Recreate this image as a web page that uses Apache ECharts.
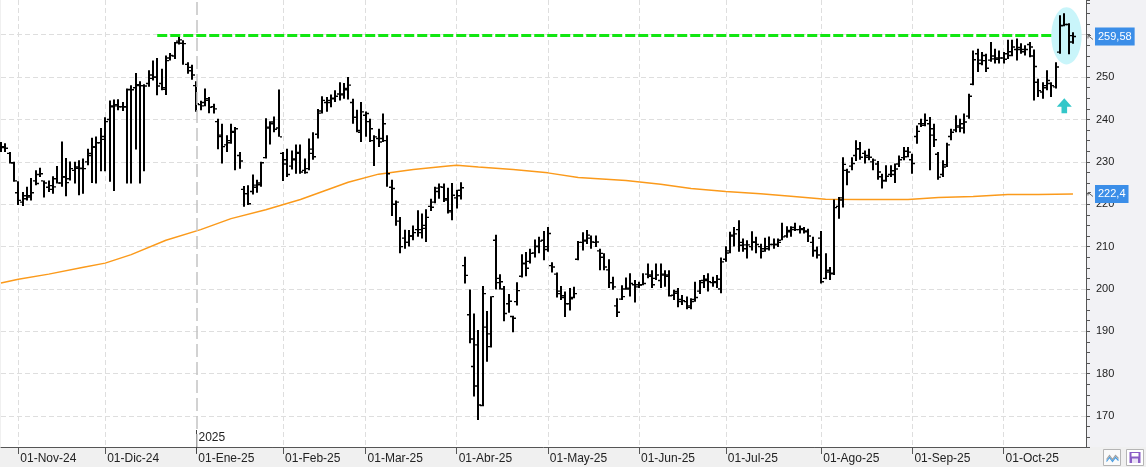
<!DOCTYPE html>
<html>
<head>
<meta charset="utf-8">
<script src="https://cdn.jsdelivr.net/npm/echarts@6/dist/echarts.min.js"></script>
<style>
  html, body { margin: 0; padding: 0; background: #f0f0f0; }
  #chart { width: 1146px; height: 467px; }
</style>
</head>
<body>
<div id="chart"></div>
<script>
// category slots (one per trading day) and the month marks on the time axis
const slotCount = 251;
const monthStarts = [4, 24, 45, 65, 84, 105, 126, 147, 167, 189, 210, 231];
const monthLabels = ['01-Nov-24', '01-Dic-24', '01-Ene-25', '01-Feb-25', '01-Mar-25', '01-Abr-25',
  '01-May-25', '01-Jun-25', '01-Jul-25', '01-Ago-25', '01-Sep-25', '01-Oct-25'];
const yearMark = { index: 45, label: '2025' };

// daily OHLC
const opens = [
  233.8, 233.6, 232.0, 229.8, 222.7, 220.5, 222.0, 222.0, 225.5, 227.0,
  225.5, 224.0, 223.5, 226.0, 225.0, 226.5, 226.0, 228.0, 228.5, 228.5,
  230.0, 232.0, 233.5, 234.5, 236.0, 240.0, 243.0, 243.5, 243.0, 243.0,
  247.0, 247.5, 248.0, 248.0, 248.5, 250.5, 250.0, 248.5, 247.5, 254.5,
  255.0, 258.5, 258.0, 253.0, 251.5, 248.0, 243.5, 244.0, 244.5, 243.0,
  239.5, 236.0, 234.0, 235.0, 237.0, 231.5, 223.5, 222.5, 223.0, 224.0,
  225.0, 231.0, 238.0, 239.0, 238.0, 232.0, 230.5, 229.0, 230.5, 232.0,
  228.0, 228.4, 232.0, 236.5, 242.0, 244.0, 244.5, 245.0, 246.0, 246.0,
  247.0, 244.0, 240.5, 237.0, 241.0, 239.5, 235.0, 235.5, 235.5, 235.0,
  224.0, 220.0, 216.0, 212.0, 211.0, 212.5, 214.0, 214.0, 215.0, 219.5,
  220.5, 223.0, 224.0, 221.0, 218.5, 221.5, 222.0, 205.5, 193.9, 181.7,
  186.8, 172.5, 191.0, 186.4, 211.5, 201.5, 200.0, 196.5, 193.5, 197.0,
  203.0, 206.0, 206.5, 208.5, 210.0, 211.5, 210.0, 205.5, 203.5, 199.5,
  198.0, 196.5, 198.0, 207.0, 211.0, 211.5, 212.0, 211.0, 209.0, 207.5,
  204.5, 201.5, 196.0, 197.6, 200.0, 200.0, 201.0, 201.0, 201.0, 203.5,
  203.0, 202.5, 202.0, 203.5, 203.0, 198.5, 199.0, 197.5, 197.0, 196.0,
  197.5, 199.5, 201.5, 202.0, 201.5, 201.5, 200.0, 207.0, 209.0, 212.5,
  214.0, 211.0, 209.5, 210.0, 211.0, 210.0, 209.5, 210.0, 210.5, 210.5,
  211.5, 212.5, 213.5, 214.5, 214.0, 214.0, 213.5, 211.0, 209.0, 212.0,
  202.5, 204.0, 203.6, 219.5, 221.0, 228.0, 229.0, 231.5, 233.1, 232.0,
  231.5, 230.0, 229.5, 226.5, 225.5, 227.0, 227.0, 229.5, 231.0, 232.5,
  230.5, 236.0, 239.0, 239.0, 239.0, 237.8, 231.8, 227.0, 229.3, 236.0,
  237.5, 238.5, 238.0, 240.8, 248.3, 255.5, 254.0, 253.9, 254.0, 255.0,
  254.5, 254.5, 255.5, 256.0, 256.5, 257.0, 256.0, 257.7, 255.0, 248.8,
  246.5, 248.0, 248.5, 247.7, 255.9, 262.2, 262.4, 259.8
];
const highs = [
  234.7, 234.4, 232.3, 230.0, 225.4, 222.9, 224.1, 226.2, 228.0, 228.6,
  225.6, 225.6, 226.6, 229.0, 234.8, 230.9, 230.1, 230.0, 230.4, 230.8,
  233.1, 235.7, 236.0, 238.0, 240.5, 244.5, 244.7, 244.8, 244.1, 247.3,
  248.1, 251.0, 249.0, 248.3, 251.6, 253.9, 254.5, 252.0, 255.1, 255.7,
  258.3, 260.0, 258.7, 253.5, 252.9, 249.0, 244.4, 247.3, 245.3, 243.7,
  240.2, 239.0, 236.3, 239.0, 238.2, 232.3, 224.3, 224.5, 227.0, 225.8,
  230.0, 240.3, 239.6, 240.7, 247.1, 232.3, 233.1, 232.7, 234.1, 234.1,
  230.8, 235.5, 237.0, 242.5, 245.5, 245.3, 245.9, 246.9, 248.8, 248.6,
  250.0, 244.9, 242.3, 244.1, 241.9, 240.2, 236.3, 237.8, 241.4, 236.3,
  225.8, 220.9, 217.0, 214.0, 213.9, 215.0, 218.6, 217.8, 218.8, 221.3,
  224.1, 224.9, 224.9, 223.9, 225.0, 223.4, 225.2, 207.6, 199.9, 194.2,
  190.3, 200.7, 194.8, 198.3, 212.8, 203.5, 200.7, 198.8, 193.7, 201.6,
  208.2, 208.7, 209.5, 211.7, 212.3, 213.7, 214.6, 206.3, 203.9, 200.7,
  199.4, 200.2, 200.5, 211.3, 213.4, 213.9, 212.6, 212.6, 209.5, 208.4,
  207.0, 202.9, 197.8, 200.9, 202.7, 203.7, 202.1, 201.7, 203.7, 206.0,
  204.4, 206.0, 206.0, 204.4, 204.4, 199.8, 200.2, 198.6, 198.2, 197.8,
  201.7, 202.1, 203.3, 203.7, 202.9, 203.3, 207.4, 210.1, 213.5, 214.6,
  216.2, 211.9, 211.5, 213.6, 212.3, 210.7, 212.1, 212.4, 211.9, 211.9,
  215.6, 214.8, 214.8, 215.6, 215.0, 214.6, 214.2, 212.3, 210.0, 213.7,
  208.4, 205.2, 221.1, 221.7, 231.1, 228.4, 231.1, 235.1, 234.7, 232.7,
  233.1, 230.8, 230.2, 227.2, 229.2, 229.2, 229.6, 231.5, 233.5, 233.5,
  231.9, 238.6, 240.2, 241.4, 240.6, 239.0, 232.3, 230.4, 234.5, 237.8,
  241.0, 240.2, 241.4, 246.1, 256.3, 256.7, 255.9, 255.5, 258.3, 256.7,
  256.3, 255.9, 258.8, 258.8, 259.1, 258.0, 257.5, 258.3, 256.5, 249.6,
  248.8, 251.6, 248.8, 253.5, 264.6, 265.1, 262.7, 260.6
];
const lows = [
  232.3, 232.3, 229.6, 225.3, 219.8, 219.6, 220.9, 220.9, 224.5, 226.4,
  221.6, 222.9, 222.5, 224.9, 224.1, 221.9, 225.6, 224.9, 222.1, 222.5,
  229.2, 225.0, 224.9, 227.8, 227.8, 225.3, 223.1, 242.2, 242.0, 224.9,
  224.9, 232.9, 224.9, 227.8, 247.7, 249.2, 245.7, 246.9, 245.8, 253.9,
  254.3, 257.7, 252.9, 250.8, 249.4, 241.8, 242.2, 243.1, 241.5, 241.4,
  233.0, 229.6, 232.3, 234.3, 228.0, 228.4, 219.4, 219.8, 222.3, 222.7,
  224.1, 230.8, 234.1, 237.0, 235.9, 225.5, 226.4, 228.2, 227.2, 227.2,
  227.2, 228.0, 230.5, 235.5, 241.4, 241.8, 242.9, 244.1, 244.5, 244.9,
  244.7, 239.0, 237.0, 234.7, 235.9, 234.7, 229.0, 233.5, 234.7, 224.1,
  217.2, 214.9, 208.4, 209.5, 210.0, 211.5, 212.3, 211.9, 211.1, 218.4,
  220.2, 221.3, 220.5, 217.8, 216.2, 219.0, 221.1, 201.3, 187.2, 174.6,
  169.1, 172.3, 182.8, 186.2, 199.9, 199.9, 192.4, 194.4, 189.8, 196.1,
  202.7, 203.0, 206.0, 207.4, 208.4, 206.8, 208.8, 203.9, 198.0, 197.4,
  193.4, 194.9, 197.8, 206.8, 209.1, 210.6, 209.5, 209.9, 204.4, 204.4,
  200.2, 199.8, 193.4, 197.4, 199.8, 198.2, 196.8, 200.2, 200.9, 202.5,
  200.2, 202.1, 200.2, 200.5, 198.2, 197.4, 195.7, 196.2, 195.2, 195.2,
  197.0, 198.8, 200.2, 199.4, 200.5, 200.2, 199.0, 206.4, 208.4, 210.0,
  208.8, 208.8, 207.2, 209.1, 208.4, 207.2, 208.8, 209.1, 209.5, 209.9,
  211.5, 212.1, 212.3, 213.7, 213.1, 213.1, 211.1, 207.6, 207.2, 201.3,
  202.3, 202.1, 203.3, 216.6, 219.2, 224.5, 228.0, 230.2, 230.5, 229.6,
  230.4, 228.0, 225.8, 223.7, 225.3, 226.4, 225.0, 228.8, 230.4, 231.1,
  227.2, 234.3, 238.2, 238.4, 228.0, 233.5, 225.8, 226.4, 228.8, 235.1,
  237.0, 237.0, 236.7, 240.2, 248.1, 251.2, 252.8, 251.2, 253.6, 253.2,
  253.2, 253.2, 254.3, 254.9, 253.9, 255.5, 255.1, 254.7, 244.5, 245.3,
  244.9, 246.9, 245.3, 247.3, 255.5, 262.0, 255.4, 257.9
];
const closes = [
  233.4, 233.2, 229.8, 225.5, 220.9, 221.3, 221.7, 222.7, 224.9, 227.2,
  225.0, 224.4, 224.1, 225.0, 226.4, 225.1, 228.4, 228.8, 228.4, 228.4,
  231.5, 233.5, 234.5, 235.3, 239.5, 243.2, 243.2, 243.0, 243.0, 247.1,
  247.0, 248.2, 248.0, 247.9, 249.7, 250.0, 247.9, 247.1, 253.9, 255.1,
  258.1, 258.8, 257.9, 252.3, 250.5, 243.7, 243.2, 244.9, 242.9, 242.5,
  236.3, 233.6, 234.5, 237.2, 237.8, 230.2, 222.5, 220.1, 224.5, 224.6,
  229.8, 238.2, 239.4, 237.7, 235.9, 229.5, 227.0, 230.7, 232.2, 227.6,
  227.5, 233.0, 231.2, 241.5, 244.5, 244.0, 244.9, 245.5, 245.8, 247.3,
  248.1, 240.5, 237.4, 241.8, 241.4, 237.8, 235.9, 234.7, 239.0, 227.2,
  223.7, 220.5, 210.0, 211.0, 212.5, 213.3, 213.3, 214.3, 216.9, 219.3,
  223.8, 224.1, 221.3, 218.2, 222.1, 223.3, 223.9, 203.2, 188.2, 177.1,
  172.6, 198.9, 189.4, 198.2, 202.5, 201.7, 194.2, 197.1, 193.1, 199.6,
  206.0, 204.9, 208.4, 210.1, 211.3, 209.3, 213.1, 205.2, 198.9, 198.4,
  196.5, 197.7, 198.9, 211.0, 211.3, 212.7, 211.1, 211.1, 208.4, 205.2,
  201.5, 200.5, 194.5, 198.2, 200.2, 201.3, 200.5, 200.9, 201.3, 203.3,
  201.0, 203.3, 203.3, 203.3, 198.4, 199.4, 197.0, 197.2, 195.7, 197.0,
  198.0, 202.0, 202.3, 201.7, 201.7, 202.3, 206.4, 208.5, 212.7, 213.0,
  210.3, 210.4, 210.4, 211.1, 210.5, 208.9, 209.5, 210.5, 210.5, 211.0,
  212.3, 213.8, 214.0, 214.0, 214.2, 213.7, 212.5, 209.1, 208.0, 201.7,
  204.4, 203.7, 219.2, 221.5, 229.4, 227.6, 229.6, 233.1, 231.1, 231.1,
  231.1, 230.4, 227.6, 225.6, 226.6, 227.9, 228.3, 230.5, 231.2, 232.3,
  229.6, 237.2, 238.6, 239.8, 236.3, 235.2, 226.4, 228.8, 234.0, 237.0,
  238.2, 239.0, 239.4, 245.5, 254.1, 253.2, 255.1, 252.1, 254.3, 254.2,
  254.5, 254.2, 255.1, 257.1, 256.5, 256.5, 256.5, 257.1, 252.5, 246.8,
  247.5, 249.2, 248.0, 252.4, 262.1, 262.4, 258.3, 259.58
];

// long moving average, read at these slots
const maSlots = [0, 4, 11, 19, 24, 30, 38, 46, 53, 61, 69, 80, 87, 95, 103, 105, 110, 118,
  126, 133, 144, 152, 159, 167, 175, 182, 190, 198, 209, 216, 224, 232, 239, 247];
const maValues = [201.4, 202.3, 203.5, 205.1, 206.1, 208.1, 211.5, 214.0, 216.6, 218.7, 221.1,
  225.2, 227.1, 228.2, 229.0, 229.2, 228.8, 228.2, 227.4, 226.3, 225.6, 224.7, 223.7, 223.0,
  222.5, 221.9, 221.2, 221.1, 221.1, 221.6, 221.8, 222.3, 222.3, 222.4];

// annotations
const resistance = { from: 36, to: 242, value: 259.8 };
const lastClose = 259.58;
const lastMa = 222.4;
const highlight = [242.1, 248.5, 253.0, 266.5]; // slot from, slot to, low, high
const arrowAt = [245.3, 245.0];

const FONT = 'Liberation Sans';
const categories = Array.from({ length: slotCount }, (_, i) => String(i));
const isMonth = (i) => monthStarts.includes(i);

const ohlcData = opens.map((o, i) => [i, o, highs[i], lows[i], closes[i]]);
const maData = maSlots.map((s, i) => [s, maValues[i]]);

function renderBar(params, api) {
  const i = api.value(0);
  const hi = api.coord([i, api.value(2)]);
  const lo = api.coord([i, api.value(3)]);
  const op = api.coord([i, api.value(1)]);
  const cl = api.coord([i, api.value(4)]);
  const x = Math.round(hi[0]);
  const style = { fill: '#000' };
  return {
    type: 'group',
    children: [
      { type: 'rect', shape: { x: x - 1, y: hi[1], width: 2, height: Math.max(lo[1] - hi[1], 1) }, style },
      { type: 'rect', shape: { x: x - 3, y: op[1] - 0.7, width: 2, height: 1.4 }, style },
      { type: 'rect', shape: { x: x + 1, y: cl[1] - 0.7, width: 2, height: 1.4 }, style }
    ]
  };
}

function renderHighlight(params, api) {
  const a = api.coord([api.value(0), api.value(3)]);
  const b = api.coord([api.value(1), api.value(2)]);
  return {
    type: 'ellipse',
    shape: { cx: (a[0] + b[0]) / 2, cy: (a[1] + b[1]) / 2, rx: (b[0] - a[0]) / 2, ry: (b[1] - a[1]) / 2 },
    style: { fill: '#c9f5fa' }
  };
}

function renderArrow(params, api) {
  const p = api.coord([api.value(0), api.value(1)]);
  const x = p[0], y = p[1];
  return {
    type: 'polygon',
    shape: { points: [[x, y], [x + 7.5, y + 8.5], [x + 2.8, y + 8.5], [x + 2.8, y + 15], [x - 2.8, y + 15], [x - 2.8, y + 8.5], [x - 7.5, y + 8.5]] },
    style: { fill: '#33c7c9' }
  };
}

function renderYear(params, api) {
  const p = api.coord([api.value(0), 200]);
  const bottom = params.coordSys.y + params.coordSys.height;
  const x = Math.round(p[0]) + 0.5;
  return {
    type: 'group',
    children: [
      { type: 'line', shape: { x1: x, y1: bottom - 17, x2: x, y2: bottom + 6 }, style: { stroke: '#444', lineWidth: 1 } },
      { type: 'text', x: x + 2, y: bottom - 3, style: { text: yearMark.label, font: '12px ' + FONT, fill: '#222', textVerticalAlign: 'bottom' } }
    ]
  };
}

// small pointer glyph just right of the value axis, next to each value tag
function renderPointer(params, api) {
  const p = api.coord([0, api.value(0)]);
  const x = params.coordSys.x + params.coordSys.width + 2;
  const y = Math.round(p[1]) + 0.5;
  return {
    type: 'group',
    children: [
      { type: 'line', shape: { x1: x, y1: y - 2, x2: x + 5, y2: y + 2 }, style: { stroke: '#666', lineWidth: 1 } },
      { type: 'polyline', shape: { points: [[x + 3, y - 2], [x, y - 2], [x, y + 1]] }, style: { stroke: '#666', lineWidth: 1, fill: null } }
    ]
  };
}

const tagLabel = (text) => ({
  show: true, position: 'end', distance: 9, formatter: text,
  backgroundColor: '#3b8ee8', color: '#fff', fontFamily: FONT, fontSize: 11,
  padding: [4, 3, 3, 3]
});

const chart = echarts.init(document.getElementById('chart'), null, { renderer: 'canvas' });

chart.setOption({
  backgroundColor: '#f0f0f0',
  animation: false,
  graphic: [
    { type: 'rect', right: 0, top: 0, shape: { width: 60, height: 447 }, style: { fill: '#f2f2f5' }, z: -10 },
    {
      type: 'group', left: 1103, top: 449,
      children: [
        { type: 'rect', shape: { x: 0, y: 0, width: 17, height: 16 }, style: { fill: '#fafafa', stroke: '#b5b5b5', lineWidth: 1 } },
        { type: 'polyline', shape: { points: [[3, 10], [6, 6], [9, 10], [12, 6], [15, 9]] }, style: { stroke: '#a0a0a0', lineWidth: 1.2, fill: null } },
        { type: 'polyline', shape: { points: [[3, 12], [6, 8], [9, 12], [12, 8], [15, 11]] }, style: { stroke: '#4a9de0', lineWidth: 1.2, fill: null } }
      ]
    },
    {
      type: 'group', left: 1126, top: 449,
      children: [
        { type: 'rect', shape: { x: 0, y: 0, width: 17, height: 16 }, style: { fill: '#fff', stroke: '#b5b5b5', lineWidth: 1 } },
        { type: 'rect', shape: { x: 3, y: 2.5, width: 11, height: 11 }, style: { fill: '#8a5cc6' } },
        { type: 'rect', shape: { x: 5, y: 3.5, width: 7, height: 3.5 }, style: { fill: '#fff' } },
        { type: 'rect', shape: { x: 5.5, y: 9, width: 6, height: 4.5 }, style: { fill: '#e9e0f5' } }
      ]
    }
  ],
  grid: { left: 1, right: 60, top: 0, bottom: 20, show: true, backgroundColor: '#fff', borderWidth: 0 },
  xAxis: {
    type: 'category',
    data: categories,
    boundaryGap: false,
    axisLine: { lineStyle: { color: '#555', width: 1 } },
    axisTick: { interval: (i) => isMonth(i), length: 7, lineStyle: { color: '#555' } },
    axisLabel: {
      interval: (i) => isMonth(i),
      formatter: (v, i) => monthLabels[monthStarts.indexOf(i)] || '',
      align: 'left', margin: 6, padding: [0, 0, 0, 2],
      color: '#222', fontFamily: FONT, fontSize: 12
    },
    splitLine: {
      show: true,
      interval: (i) => isMonth(i) && i !== yearMark.index,
      lineStyle: { color: '#dedede', type: [5, 3] }
    }
  },
  yAxis: {
    type: 'value',
    position: 'right',
    min: 162.7,
    max: 268.2,
    splitNumber: 11,
    axisLine: { show: true, lineStyle: { color: '#555' } },
    axisTick: { show: true, length: 4, lineStyle: { color: '#555' } },
    minorTick: { show: true, splitNumber: 4, length: 4, lineStyle: { color: '#555' } },
    axisLabel: { margin: 10, color: '#222', fontFamily: FONT, fontSize: 11, showMinLabel: false, showMaxLabel: false },
    splitLine: {
      show: true,
      lineStyle: {
        color: ['rgba(0,0,0,0)', '#dedede', '#dedede', '#dedede', '#dedede', '#dedede', '#dedede',
          '#dedede', '#dedede', '#dedede', '#dedede', 'rgba(0,0,0,0)'],
        type: [5, 3]
      }
    }
  },
  series: [
    {
      name: 'highlight',
      type: 'custom',
      renderItem: renderHighlight,
      data: [highlight],
      z: 1,
      silent: true,
      markLine: {
        silent: true, symbol: 'none', animation: false,
        label: { show: false },
        lineStyle: { color: '#c4c4c4', type: [13, 5], width: 1.5 },
        data: [{ xAxis: yearMark.index }]
      }
    },
    {
      name: 'MA',
      type: 'line',
      data: maData,
      showSymbol: false,
      lineStyle: { color: '#fb9a1b', width: 1.5 },
      z: 2,
      silent: true,
      markLine: {
        silent: true, symbol: 'none', animation: false,
        lineStyle: { color: 'rgba(0,0,0,0)' },
        data: [{ yAxis: lastMa, label: tagLabel('222,4') }]
      }
    },
    {
      name: 'precio',
      type: 'custom',
      renderItem: renderBar,
      data: ohlcData,
      encode: { x: 0, y: [1, 2, 3, 4] },
      z: 3,
      silent: true,
      markLine: {
        silent: true, symbol: 'none', animation: false,
        data: [
          [
            { coord: [resistance.from, resistance.value], lineStyle: { color: '#12e612', width: 3, type: [10, 3] }, label: { show: false } },
            { coord: [resistance.to, resistance.value] }
          ],
          { yAxis: lastClose, lineStyle: { color: 'rgba(0,0,0,0)' }, label: tagLabel('259,58') }
        ]
      }
    },
    {
      name: 'arrow',
      type: 'custom',
      renderItem: renderArrow,
      data: [arrowAt],
      z: 4,
      silent: true
    },
    {
      name: 'year',
      type: 'custom',
      renderItem: renderYear,
      data: [[yearMark.index]],
      clip: false,
      z: 4,
      silent: true
    },
    {
      name: 'pointers',
      type: 'custom',
      renderItem: renderPointer,
      data: [[lastClose], [lastMa]],
      encode: { y: 0 },
      clip: false,
      z: 4,
      silent: true
    }
  ]
});
</script>
</body>
</html>
